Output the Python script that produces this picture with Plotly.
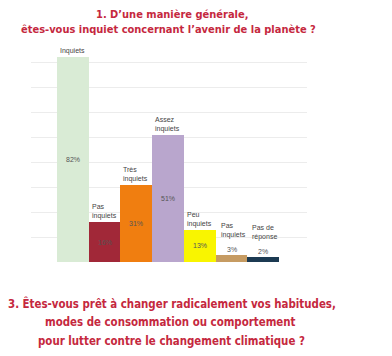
import plotly.graph_objects as go

categories = ["Inquiets", "Pas<br>inquiets", "Très<br>inquiets", "Assez<br>inquiets",
              "Peu<br>inquiets", "Pas<br>inquiets", "Pas de<br>réponse"]
values = [82, 16, 31, 51, 13, 3, 2]
value_labels = ["82%", "16%", "31%", "51%", "13%", "3%", "2%"]
colors = ["#d9ebd5", "#a12838", "#f07e10", "#b9a6cd", "#f9f500", "#c69b62", "#1c3a52"]

title_top = ["1. D’une manière générale,",
             "êtes-vous inquiet concernant l’avenir de la planète ?"]
title_bottom = ["3. Êtes-vous prêt à changer radicalement vos habitudes,",
                "modes de consommation ou comportement",
                "pour lutter contre le changement climatique ?"]

W, H = 392, 356
L, R, T, B = 31, 307, 37, 262  # plot area in pixels

def px(x):
    return (x - L) / (R - L)

def py(y):
    return (B - y) / (B - T)

xs = list(range(len(values)))
fig = go.Figure(go.Bar(
    x=xs, y=values, width=1,
    marker=dict(color=colors, line=dict(width=0)),
    hoverinfo="skip",
))

TITLE_FONT = "DejaVu Sans Condensed, Liberation Sans Narrow, sans-serif"
RED = "#c5283e"
ann = []
for txt, (cx, cy) in zip(title_top, [(172, 14), (168, 29)]):
    ann.append(dict(text="<b>%s</b>" % txt, x=px(cx), y=py(cy), xref="paper", yref="paper",
                    xanchor="center", yanchor="middle", showarrow=False,
                    font=dict(family=TITLE_FONT, size=11, color=RED)))
for txt, (cx, cy) in zip(title_bottom, [(171.5, 303), (170, 322), (171, 341)]):
    ann.append(dict(text="<b>%s</b>" % txt, x=px(cx), y=py(cy), xref="paper", yref="paper",
                    xanchor="center", yanchor="middle", showarrow=False,
                    font=dict(family=TITLE_FONT, size=11.4, color=RED)))

SMALL = dict(family="Liberation Sans, Arial, sans-serif", size=7, color="#555555")
for i, (v, vl, c) in enumerate(zip(values, value_labels, categories)):
    inside = v >= 10
    if inside:
        ann.append(dict(text=vl, x=i, y=v / 2, xref="x", yref="y", showarrow=False,
                        xanchor="center", yanchor="middle", font=SMALL))
    else:
        ann.append(dict(text=vl, x=i, y=v, xref="x", yref="y", showarrow=False,
                        xanchor="center", yanchor="bottom", yshift=0, font=SMALL))
    ann.append(dict(text=c, x=i - 0.5, y=v, xref="x", yref="y", showarrow=False,
                    xanchor="left", yanchor="bottom", align="left",
                    xshift=1 if inside else 3, yshift=0 if inside else 14,
                    font=dict(family=SMALL["family"], size=7, color="#444444")))

fig.update_layout(
    width=W, height=H,
    margin=dict(l=L, r=W - R, t=T, b=H - B, pad=0),
    paper_bgcolor="white", plot_bgcolor="white",
    showlegend=False, bargap=0,
    xaxis=dict(range=[-1.32, 7.38], showticklabels=False, showgrid=False,
               zeroline=False, showline=False, ticks="", fixedrange=True),
    yaxis=dict(range=[0, 90], tickvals=[0, 10, 20, 30, 40, 50, 60, 70, 80],
               showticklabels=False, showgrid=True, gridcolor="#ececec", gridwidth=1,
               zeroline=False, showline=False, ticks="", fixedrange=True),
    annotations=ann,
)

fig.write_html("out.html", config={"displayModeBar": False})
